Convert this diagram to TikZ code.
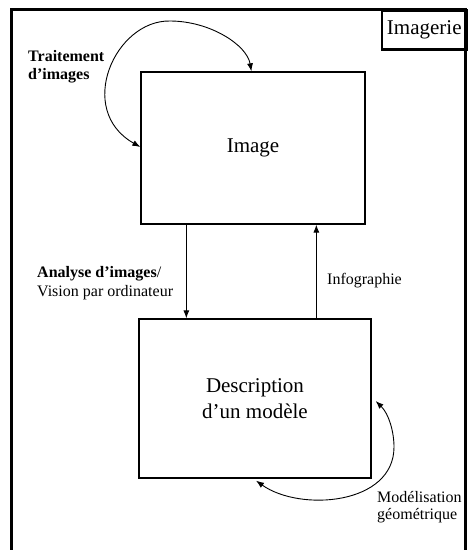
\documentclass[tikz,border=0pt]{standalone}
\usepackage{fontspec}
\setmainfont{Liberation Serif}
\usetikzlibrary{arrows.meta,calc}
\begin{document}
\begin{tikzpicture}[x=1pt,y=-1pt,
  box/.style={draw, line width=1.3pt, inner sep=0pt},
  lbl/.style={font=\fontsize{16}{18}\selectfont, inner sep=0pt},
  big/.style={font=\fontsize{21}{26}\selectfont},
  conn/.style={line width=0.9pt, -{Latex[length=8pt,width=6pt]}},
  dconn/.style={line width=0.9pt, {Latex[length=8pt,width=6pt]}-{Latex[length=8pt,width=6pt]}}]
\useasboundingbox (0,0) rectangle (469,550);
\begin{scope}
  \clip (0,0) rectangle (469,550);
  \draw[line width=2.6pt] (11.5,9.3) rectangle (465.2,580);
\end{scope}
\node[box, big, line width=2.6pt, minimum width=84.5pt, minimum height=38.7pt, anchor=north west] (imgr) at (380.7,9.3) {Imagerie};
\node[box, big, minimum width=224pt, minimum height=152pt] (img) at (253,148) {Image};
\node[box, big, align=center, minimum width=232pt, minimum height=159pt] (desc) at (255,398.5) {Description\\d’un modèle};
\draw[conn] ([xshift=46pt]img.south west) -- ([xshift=48pt]desc.north west);
\draw[conn] ([xshift=178pt]desc.north west) -- ([xshift=176pt]img.south west);
\coordinate (tpk) at (170,21);
\draw[dconn] ([xshift=111pt]img.north west) .. controls (247,45) and (210,21) .. (tpk) .. controls (115,20) and (75,110) .. ([yshift=1pt]img.west);
\coordinate (mrt) at (394,447);
\draw[dconn] ([xshift=4pt,yshift=-2.5pt]desc.east) .. controls (389,414) and (394,432) .. (mrt) .. controls (394,505) and (300,512) .. ([xshift=1pt,yshift=-2pt]desc.south);
\node[lbl, anchor=base west] (tr1) at (28,61) {\bfseries Traitement};
\node[lbl, anchor=base west] (tr2) at (28,79) {\bfseries d’images};
\node[lbl, anchor=base west] (an1) at (37,277) {\textbf{Analyse d’images}/};
\node[lbl, anchor=base west] (an2) at (37,296) {Vision par ordinateur};
\node[lbl, anchor=base west] (inf) at (327,284) {Infographie};
\node[lbl, anchor=base west] (mod1) at (377,502) {Modélisation};
\node[lbl, anchor=base west] (mod2) at (377,519) {géométrique};
\end{tikzpicture}
\end{document}
